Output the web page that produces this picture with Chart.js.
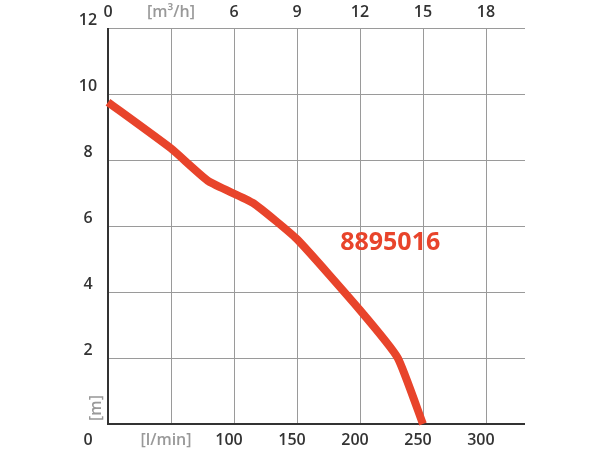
<!DOCTYPE html>
<html>
<head>
<meta charset="utf-8">
<script src="https://cdn.jsdelivr.net/npm/chart.js@4/dist/chart.umd.min.js"></script>
<style>
  html, body { margin: 0; background: #fff; }
  #wrap { width: 600px; height: 450px; }
</style>
</head>
<body>
<div id="wrap"><canvas id="c"></canvas></div>
<script>
// flow (l/min) vs head (m)
const flowLpm = [0, 50, 80, 115, 150, 200, 230, 250];
const headM   = [9.75, 8.35, 7.35, 6.7, 5.6, 3.45, 2.0, 0];
const xTicks  = [50, 100, 150, 200, 250, 300];
const yTicks  = [2, 4, 6, 8, 10, 12];
const bottomLabels = ['[l/min]', '100', '150', '200', '250', '300'];
const topLabels    = ['0', '[m³/h]', '6', '9', '12', '15', '18'];
const seriesName = '8895016';

const RED = '#e8442b';

// grid, axis lines and all the text around the plot
const decor = {
  id: 'decor',
  beforeDatasetsDraw(chart) {
    const { ctx, chartArea: a, scales: { x, y } } = chart;
    ctx.save();
    ctx.strokeStyle = '#9a9a9a';
    ctx.lineWidth = 1;
    xTicks.forEach(v => {
      const px = Math.round(x.getPixelForValue(v)) + 0.5;
      ctx.beginPath(); ctx.moveTo(px, a.top); ctx.lineTo(px, a.bottom); ctx.stroke();
    });
    yTicks.forEach(v => {
      const py = Math.round(y.getPixelForValue(v)) + 0.5;
      ctx.beginPath(); ctx.moveTo(a.left, py); ctx.lineTo(a.right, py); ctx.stroke();
    });
    ctx.strokeStyle = '#333';
    ctx.lineWidth = 2;
    ctx.beginPath();
    ctx.moveTo(a.left, a.top); ctx.lineTo(a.left, a.bottom); ctx.lineTo(a.right, a.bottom);
    ctx.stroke();
    ctx.restore();
  },
  afterDatasetsDraw(chart) {
    const { ctx, chartArea: a, scales: { x, y } } = chart;
    ctx.save();
    ctx.font = '600 16px "Open Sans", sans-serif';
    ctx.textBaseline = 'middle';
    ctx.textAlign = 'center';
    // y labels (left)
    yTicks.forEach(v => {
      ctx.fillStyle = '#333';
      ctx.fillText(String(v), 88, y.getPixelForValue(v) - 8);
    });
    ctx.fillStyle = '#333';
    ctx.fillText('0', 88, 440);
    // bottom labels
    xTicks.forEach((v, i) => {
      const unit = bottomLabels[i].startsWith('[');
      ctx.fillStyle = unit ? '#999' : '#333';
      ctx.fillText(bottomLabels[i], x.getPixelForValue(v) - 5, 440);
    });
    // top labels (m³/h), every 50 l/min = 3 m³/h
    topLabels.forEach((t, i) => {
      ctx.fillStyle = t.startsWith('[') ? '#999' : '#333';
      ctx.fillText(t, x.getPixelForValue(i * 50), 12);
    });
    // [m] rotated
    ctx.fillStyle = '#999';
    ctx.translate(96, 408);
    ctx.rotate(-Math.PI / 2);
    ctx.fillText('[m]', 0, 0);
    ctx.restore();

    ctx.save();
    ctx.font = 'bold 25px "Open Sans", sans-serif';
    ctx.fillStyle = RED;
    ctx.textAlign = 'center';
    ctx.textBaseline = 'middle';
    ctx.fillText(seriesName, x.getPixelForValue(224), y.getPixelForValue(5.5));
    ctx.restore();
  }
};

new Chart(document.getElementById('c'), {
  type: 'line',
  data: {
    datasets: [{
      label: seriesName,
      data: flowLpm.map((f, i) => ({ x: f, y: headM[i] })),
      borderColor: RED,
      borderWidth: 8,
      borderCapStyle: 'butt',
      borderJoinStyle: 'round',
      pointRadius: 0,
      tension: 0.15,
      clip: false
    }]
  },
  options: {
    responsive: true,
    maintainAspectRatio: false,
    animation: false,
    layout: { padding: { left: 108, right: 75, top: 28, bottom: 26 } },
    plugins: { legend: { display: false }, tooltip: { enabled: false } },
    scales: {
      x: { type: 'linear', min: 0, max: 331, display: false },
      y: { min: 0, max: 12, display: false }
    }
  },
  plugins: [decor]
});
</script>
</body>
</html>
